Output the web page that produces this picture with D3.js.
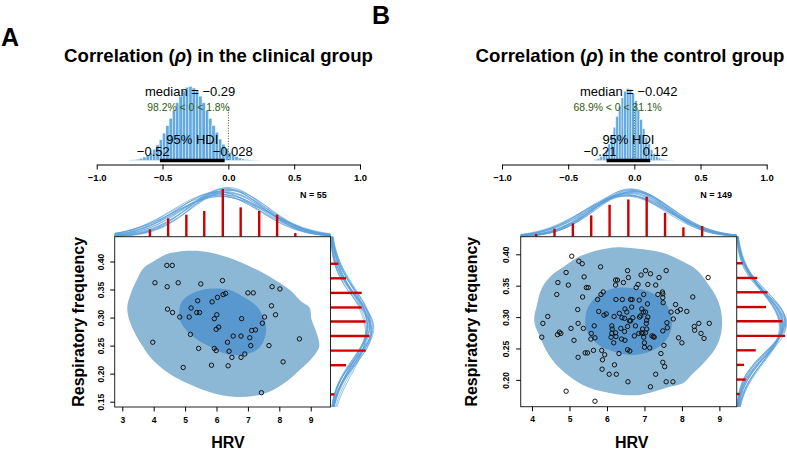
<!DOCTYPE html>
<html><head><meta charset="utf-8">
<script src="https://cdn.jsdelivr.net/npm/d3@7"></script>
<style>body{margin:0;background:#fff}svg{display:block}text{font-family:"Liberation Sans",Arial,Helvetica,sans-serif}</style>
</head><body><svg id="chart" width="787" height="450"></svg>
<script>
// ---------------- DATA ----------------
const panelLetters = ["A", "B"];
const groupNames = ["clinical", "control"];
const rhoTicks = [-1, -0.5, 0, 0.5, 1];
const xTicksClinical = [3, 4, 5, 6, 7, 8, 9];
const yTicksClinical = [0.15, 0.20, 0.25, 0.30, 0.35, 0.40];
const xTicksControl = [4, 5, 6, 7, 8, 9];
const yTicksControl = [0.20, 0.25, 0.30, 0.35, 0.40];
const sampleSizes = [55, 149];

// posterior of rho: summary values
const rhoMedian = [-0.29, -0.042];
const rhoHDI = [[-0.52, -0.028], [-0.21, 0.12]];
const rhoPctBelow = [98.2, 68.9];
const rhoPctAbove = [1.8, 31.1];

// posterior histogram (relative bar heights)
const clinicalRhoBinStart = -0.75, clinicalRhoBinWidth = 0.025;
const clinicalRhoHeights = [0.006,0.010,0.018,0.029,0.046,0.071,0.104,0.15,0.21,0.28,0.37,0.47,0.57,0.68,0.78,0.87,0.94,0.99,1.0,
  0.98,0.94,0.87,0.78,0.68,0.57,0.47,0.38,0.29,0.22,0.16,0.11,0.078,0.052,0.034,0.021,0.013,0.008,0.004,0.002,0.001];
const controlRhoBinStart = -0.30, controlRhoBinWidth = 0.02;
const controlRhoHeights = [0.016,0.030,0.055,0.093,0.15,0.23,0.34,0.46,0.61,0.75,0.87,0.96,1.0,0.99,0.93,0.83,0.71,0.57,0.44,0.32,
  0.23,0.15,0.095,0.057,0.033,0.018,0.009,0.005,0.002,0.001];

// scatter data
const clinicalHRV = [4.42,4.59,4.04,4.43,4.78,5.50,6.19,7.77,8.02,7.00,7.17,6.21,6.29,6.03,5.86,5.40,4.44,4.60,5.19,5.37,5.46,4.83,5.13,6.01,5.93,6.80,7.75,7.88,7.53,7.46,6.07,5.99,7.24,7.12,3.97,5.17,6.53,6.78,7.06,8.64,6.35,7.09,7.67,5.43,5.93,5.99,6.40,6.90,6.49,6.78,4.94,5.84,6.37,8.12,7.43];
const clinicalRF = [0.393,0.393,0.362,0.355,0.362,0.360,0.366,0.355,0.351,0.344,0.344,0.341,0.343,0.336,0.328,0.330,0.315,0.309,0.317,0.309,0.309,0.301,0.301,0.305,0.298,0.298,0.321,0.305,0.301,0.290,0.283,0.279,0.278,0.277,0.256,0.270,0.267,0.267,0.264,0.262,0.256,0.250,0.250,0.245,0.245,0.241,0.240,0.235,0.229,0.229,0.211,0.215,0.214,0.221,0.166];
const controlHRV = [5.06,5.25,5.34,5.83,
  6.55,7.03,7.58,4.91,6.91,7.16,5.39,6.57,7.39,8.70,
  6.23,6.28,4.69,6.44,4.97,6.83,7.09,7.30,6.23,
  5.45,5.50,6.78,5.90,7.48,7.49,4.66,5.84,6.98,7.36,
  5.35,8.29,5.75,6.24,6.41,6.63,6.67,6.86,7.49,
  7.50,7.08,7.83,6.66,7.96,5.22,6.48,6.93,5.78,
  5.92,5.98,6.33,6.53,6.97,7.03,7.71,7.88,8.13,4.42,6.19,6.40,6.47,6.69,6.87,6.90,7.09,7.77,
  6.60,6.63,7.06,7.60,4.29,5.23,7.05,8.45,8.73,5.66,6.13,6.55,6.76,8.33,7.61,5.04,5.37,6.37,6.14,6.95,7.06,
  7.49,8.34,4.73,4.68,4.77,5.58,6.13,6.23,6.47,6.85,6.92,6.96,7.03,8.51,4.26,6.11,6.24,6.73,6.98,7.20,7.24,7.26,7.91,8.59,5.68,
  5.57,5.12,6.39,6.48,6.18,7.00,8.00,
  7.52,5.64,7.00,7.14,5.86,6.55,6.61,5.42,5.48,6.32,7.44,5.94,
  5.23,5.88,7.49,6.20,7.54,5.87,
  6.06,6.25,7.30,6.56,7.58,7.76,7.16,4.91,5.68];
const controlRF = [0.397,0.389,0.385,0.380,
  0.374,0.374,0.374,0.371,0.367,0.369,0.364,0.363,0.363,0.363,
  0.359,0.359,0.355,0.355,0.351,0.352,0.352,0.351,0.351,
  0.347,0.347,0.347,0.340,0.340,0.337,0.336,0.336,0.336,0.336,
  0.332,0.332,0.328,0.328,0.328,0.328,0.328,0.327,0.331,
  0.323,0.321,0.320,0.316,0.312,0.312,0.313,0.313,0.309,
  0.303,0.305,0.306,0.308,0.308,0.308,0.308,0.309,0.309,0.301,0.301,0.299,0.298,0.299,0.300,0.302,0.300,0.297,
  0.294,0.294,0.295,0.291,0.290,0.290,0.290,0.290,0.290,0.286,0.286,0.285,0.286,0.285,0.283,0.282,0.282,0.282,0.281,0.281,0.281,
  0.278,0.279,0.276,0.272,0.274,0.274,0.274,0.275,0.277,0.274,0.275,0.274,0.275,0.274,0.268,0.268,0.269,0.270,0.268,0.270,0.269,0.268,0.267,0.266,0.267,
  0.265,0.263,0.265,0.263,0.259,0.259,0.259,
  0.255,0.247,0.252,0.251,0.247,0.248,0.246,0.243,0.243,0.242,0.242,0.240,
  0.236,0.232,0.228,0.224,0.221,0.217,
  0.209,0.209,0.209,0.197,0.197,0.197,0.189,0.182,0.166];

// HDI contour outlines (data units)
const clinicalOuterHRV = [3.16,3.27,3.46,3.67,3.99,4.41,5.16,5.79,6.43,7.07,7.70,8.34,8.71,8.96,9.03,9.19,9.27,9.03,8.66,8.23,7.70,7.17,6.54,5.90,5.31,4.73,4.25,3.88,3.62,3.35,3.19];
const clinicalOuterRF = [0.320,0.343,0.367,0.388,0.400,0.413,0.419,0.416,0.406,0.391,0.373,0.349,0.328,0.318,0.296,0.272,0.248,0.227,0.207,0.186,0.168,0.160,0.159,0.165,0.177,0.192,0.210,0.230,0.251,0.278,0.302];
const clinicalInnerHRV = [4.81,4.89,5.16,5.58,6.01,6.43,6.85,7.28,7.51,7.58,7.49,7.28,6.96,6.54,6.11,5.69,5.26,4.94,4.82];
const clinicalInnerRF = [0.311,0.328,0.341,0.350,0.352,0.349,0.337,0.320,0.299,0.278,0.257,0.242,0.235,0.233,0.239,0.251,0.266,0.284,0.299];
const controlOuterHRV = [4.06,4.13,4.26,4.48,4.84,5.19,5.55,6.08,6.44,6.97,7.51,8.04,8.40,8.66,8.89,9.04,9.07,9.00,8.84,8.57,8.26,8.04,7.68,7.24,6.88,6.44,5.91,5.46,5.06,4.75,4.48,4.30,4.17,4.08];
const controlOuterRF = [0.300,0.319,0.346,0.364,0.380,0.394,0.403,0.410,0.411,0.408,0.402,0.388,0.375,0.356,0.335,0.311,0.285,0.264,0.245,0.226,0.208,0.195,0.189,0.181,0.176,0.176,0.181,0.189,0.203,0.218,0.237,0.256,0.274,0.287];
const controlInnerHRV = [5.42,5.48,5.68,5.99,6.35,6.71,7.06,7.37,7.60,7.71,7.73,7.64,7.46,7.15,6.79,6.44,6.08,5.77,5.55,5.44];
const controlInnerRF = [0.295,0.314,0.330,0.342,0.347,0.346,0.342,0.333,0.319,0.303,0.285,0.269,0.256,0.245,0.240,0.241,0.247,0.256,0.269,0.282];

// marginal histograms (bin centres and counts)
const clinicalHrvBins = [3.88,4.46,5.04,5.61,6.20,6.77,7.36,7.93,8.51];
const clinicalHrvCounts = [2,5,6,7,13,8,7,6,1];
const clinicalRfBins = [0.163,0.189,0.215,0.241,0.267,0.293,0.318,0.344,0.370,0.396];
const clinicalRfCounts = [1,0,4,9,10,9,8,8,4,2];
const controlHrvBins = [4.11,4.60,5.09,5.58,6.07,6.57,7.06,7.55,8.04,8.54];
const controlHrvCounts = [2,6,10,16,24,28,30,18,7,8];
const controlRfBins = [0.1775,0.2005,0.2239,0.2471,0.270,0.2933,0.316,0.3395,0.3623,0.3857];
const controlRfCounts = [2,6,5,13,33,31,20,21,14,4];

// posterior predictive marginal curves (centre, spread, peak in count units)
const clinicalHrvCurveMu = [6.05,6.20,6.28,6.12,6.35,6.42,6.00,6.22,6.38,5.95,6.45,6.15,6.30,6.08,6.25,6.18,6.33];
const clinicalHrvCurveSd = [1.28,1.40,1.18,1.48,1.32,1.22,1.44,1.30,1.15,1.38,1.25,1.52,1.20,1.35,1.33,1.42,1.26];
const clinicalHrvCurvePeak = [12.3,11.5,13.2,11.0,12.0,12.9,11.3,12.4,13.4,11.8,12.6,10.9,13.0,12.1,12.0,11.4,12.7];
const clinicalRfCurveMu = [0.281,0.274,0.288,0.284,0.271,0.291,0.279,0.283,0.276,0.289,0.273,0.286,0.281,0.292,0.278,0.285,0.280];
const clinicalRfCurveSd = [0.062,0.057,0.068,0.055,0.071,0.060,0.065,0.056,0.069,0.061,0.058,0.066,0.054,0.064,0.060,0.067,0.059];
const clinicalRfCurvePeak = [10.0,10.6,9.3,10.9,9.0,10.2,9.6,10.7,9.2,10.1,10.4,9.5,11.1,9.8,10.3,9.4,10.5];
const controlHrvCurveMu = [6.60,6.52,6.68,6.56,6.74,6.48,6.63,6.70,6.55,6.65,6.45,6.67,6.61,6.58,6.64,6.50,6.72];
const controlHrvCurveSd = [1.05,1.13,0.98,1.09,1.02,1.16,0.95,1.07,1.11,1.00,1.08,1.03,1.14,0.99,1.05,1.12,1.01];
const controlHrvCurvePeak = [33,31.5,35.5,32.5,34,30.5,36,33.5,31,34.8,32,34,30.8,35.2,33,31.2,34.5];
const controlRfCurveMu = [0.288,0.284,0.292,0.287,0.282,0.294,0.289,0.285,0.291,0.283,0.293,0.288,0.286,0.290,0.285,0.287,0.291];
const controlRfCurveSd = [0.050,0.054,0.046,0.051,0.056,0.048,0.050,0.057,0.045,0.053,0.049,0.052,0.047,0.050,0.055,0.052,0.048];
const controlRfCurvePeak = [31.5,30,33.5,31,29.5,32.8,31.8,29,34,30.6,33,31.2,33.4,31.6,29.8,30.8,32.6];

const xLabel = "HRV";
const yLabel = "Respiratory frequency";

// ---------------- LAYOUT ----------------
const C = {
  hist: "#64aae1", hdi: "#000", green: "#2d5a12", outer: "#8db8d5", inner: "#5898cf",
  curve: "#5a9fd8", red: "#cc0000", frame: "#222"
};
const layout = [
  {letterX: 1, letterY: 46, titleX: 218.5, titleY: 62,
   post: {x0: 96.7, x1: 360, base: 160.5, axisY: 164.5, hmax: 74},
   box: {x0: 114.7, x1: 330.5, y0: 236.7, y1: 407}, xlim: [2.758, 9.63], ylim: [0.1405, 0.4442],
   yTickOff: 14, yTitleX: 83.5, xTitleX: 228, nX: 326.7, hrvPx: 3.67, rfPx: 3.9},
  {letterX: 372, letterY: 24, titleX: 630, titleY: 62,
   post: {x0: 502, x1: 766.7, base: 160.5, axisY: 164.5, hmax: 72},
   box: {x0: 520.7, x1: 736.7, y0: 236.7, y1: 406.7}, xlim: [3.698, 9.462], ylim: [0.1573, 0.428],
   yTickOff: 15.2, yTitleX: 476.5, xTitleX: 631.7, nX: 732, hrvPx: 1.33, rfPx: 1.47}
];

const groups = [
  {hx: clinicalHRV, ry: clinicalRF, binStart: clinicalRhoBinStart, binW: clinicalRhoBinWidth, heights: clinicalRhoHeights,
   outer: [clinicalOuterHRV, clinicalOuterRF], inner: [clinicalInnerHRV, clinicalInnerRF],
   hb: clinicalHrvBins, hc: clinicalHrvCounts, rb: clinicalRfBins, rc: clinicalRfCounts,
   hcm: clinicalHrvCurveMu, hcs: clinicalHrvCurveSd, hcp: clinicalHrvCurvePeak,
   rcm: clinicalRfCurveMu, rcs: clinicalRfCurveSd, rcp: clinicalRfCurvePeak,
   xt: xTicksClinical, yt: yTicksClinical},
  {hx: controlHRV, ry: controlRF, binStart: controlRhoBinStart, binW: controlRhoBinWidth, heights: controlRhoHeights,
   outer: [controlOuterHRV, controlOuterRF], inner: [controlInnerHRV, controlInnerRF],
   hb: controlHrvBins, hc: controlHrvCounts, rb: controlRfBins, rc: controlRfCounts,
   hcm: controlHrvCurveMu, hcs: controlHrvCurveSd, hcp: controlHrvCurvePeak,
   rcm: controlRfCurveMu, rcs: controlRfCurveSd, rcp: controlRfCurvePeak,
   xt: xTicksControl, yt: yTicksControl}
];

const svg = d3.select("#chart");
const minus = s => String(s).replace(/-/g, "\u2212");
const sig2 = d3.format(".2g");

groups.forEach((g, i) => {
  const L = layout[i];
  const P = L.post;
  const root = svg.append("g");

  // panel letter & title
  root.append("text").attr("x", L.letterX).attr("y", L.letterY)
    .attr("font-size", 25).attr("font-weight", "bold").text(panelLetters[i]);
  const t = root.append("text").attr("x", L.titleX).attr("y", L.titleY).attr("text-anchor", "middle")
    .attr("font-size", 18.6).attr("font-weight", "bold");
  t.append("tspan").text("Correlation (");
  t.append("tspan").attr("font-style", "italic").text("\u03c1");
  t.append("tspan").text(") in the " + groupNames[i] + " group");

  // ---------- posterior histogram ----------
  const rx = d3.scaleLinear().domain([-1, 1]).range([P.x0, P.x1]);
  const hy = d3.scaleLinear().domain([0, 1]).range([P.base, P.base - P.hmax]);
  root.append("g").selectAll("rect").data(g.heights).join("rect")
    .attr("x", (d, k) => rx(g.binStart + k * g.binW))
    .attr("width", (d, k) => rx(g.binStart + (k + 1) * g.binW) - rx(g.binStart + k * g.binW))
    .attr("y", d => hy(d)).attr("height", d => P.base - hy(d))
    .attr("fill", C.hist).attr("stroke", "#e8f4fc").attr("stroke-width", 0.5);

  // comparison value line
  root.append("line").attr("x1", rx(0)).attr("x2", rx(0)).attr("y1", 107).attr("y2", P.base)
    .attr("stroke", C.green).attr("stroke-width", 1).attr("stroke-dasharray", "1,1.6");

  // HDI bar
  root.append("line").attr("x1", rx(rhoHDI[i][0])).attr("x2", rx(rhoHDI[i][1]))
    .attr("y1", P.base).attr("y2", P.base).attr("stroke", C.hdi).attr("stroke-width", 3.6);

  // axis
  const ax = d3.axisBottom(rx).tickValues(rhoTicks).tickSizeInner(5).tickSizeOuter(0).tickPadding(4.3)
    .tickFormat(v => minus(d3.format(".1f")(v)));
  const axg = root.append("g").attr("transform", `translate(0,${P.axisY})`).call(ax);
  axg.selectAll("text").attr("font-size", 9.5).attr("font-weight", "bold")
    .attr("font-family", '"Liberation Sans",Arial,sans-serif').attr("fill", "#000");
  axg.selectAll("line,path").attr("stroke", "#000");

  // texts
  root.append("text").attr("x", rx(rhoMedian[i])).attr("y", 96).attr("text-anchor", "middle")
    .attr("font-size", 13).text("median = " + minus(sig2(rhoMedian[i])));
  const cv = root.append("text").attr("y", 110.5).attr("font-size", 10.4).attr("fill", C.green)
    .text(rhoPctBelow[i].toFixed(1) + "% < 0 < " + rhoPctAbove[i].toFixed(1) + "%");
  const cvw = cv.node().getComputedTextLength();
  cv.attr("x", rx(0) - cvw * rhoPctBelow[i] / 100);
  root.append("text").attr("x", rx(d3.mean(rhoHDI[i]))).attr("y", 144).attr("text-anchor", "middle")
    .attr("font-size", 13).text("95% HDI");
  [0, 1].forEach(k => {
    const tt = root.append("text").attr("y", 156).attr("font-size", 13).text(minus(sig2(rhoHDI[i][k])));
    const w = tt.node().getComputedTextLength();
    tt.attr("x", rx(rhoHDI[i][k]) - w * (k === 0 ? 0.7 : 0.3));
  });

  // ---------- scatter ----------
  const B = L.box;
  const xs = d3.scaleLinear().domain(L.xlim).range([B.x0, B.x1]);
  const ys = d3.scaleLinear().domain(L.ylim).range([B.y1, B.y0]);
  const area = d3.line().x(d => xs(d[0])).y(d => ys(d[1])).curve(d3.curveCatmullRomClosed.alpha(0.5));
  const outerPts = g.outer[0].map((v, k) => [v, g.outer[1][k]]);
  const innerPts = g.inner[0].map((v, k) => [v, g.inner[1][k]]);
  root.append("path").attr("d", area(outerPts)).attr("fill", C.outer);
  root.append("path").attr("d", area(innerPts)).attr("fill", C.inner);

  root.append("g").selectAll("circle").data(g.hx).join("circle")
    .attr("cx", d => xs(d)).attr("cy", (d, k) => ys(g.ry[k])).attr("r", 2.2)
    .attr("fill", "none").attr("stroke", "#111").attr("stroke-width", 1);

  // marginal curves
  const xGrid = d3.range(L.xlim[0], L.xlim[1] + 1e-9, (L.xlim[1] - L.xlim[0]) / 200);
  const yGrid = d3.range(L.ylim[0], L.ylim[1] + 1e-9, (L.ylim[1] - L.ylim[0]) / 200);
  const cg = root.append("g").attr("fill", "none").attr("stroke", C.curve).attr("stroke-width", 0.8).attr("stroke-opacity", 0.85);
  g.hcm.forEach((mu, k) => {
    const ln = d3.line().x(v => xs(v)).y(v => B.y0 - L.hrvPx * g.hcp[k] * Math.exp(-0.5 * ((v - mu) / g.hcs[k]) ** 2));
    cg.append("path").attr("d", ln(xGrid));
  });
  g.rcm.forEach((mu, k) => {
    const ln = d3.line().y(v => ys(v)).x(v => B.x1 + L.rfPx * g.rcp[k] * Math.exp(-0.5 * ((v - mu) / g.rcs[k]) ** 2));
    cg.append("path").attr("d", ln(yGrid));
  });

  // marginal red histograms
  root.append("g").selectAll("line").data(g.hb).join("line")
    .attr("x1", d => xs(d)).attr("x2", d => xs(d)).attr("y1", B.y0)
    .attr("y2", (d, k) => B.y0 - g.hc[k] * L.hrvPx)
    .attr("stroke", C.red).attr("stroke-width", 2.4);
  root.append("g").selectAll("line").data(g.rb).join("line")
    .attr("y1", d => ys(d)).attr("y2", d => ys(d)).attr("x1", B.x1)
    .attr("x2", (d, k) => B.x1 + g.rc[k] * L.rfPx)
    .attr("stroke", C.red).attr("stroke-width", 2.4);

  // frame
  root.append("rect").attr("x", B.x0).attr("y", B.y0).attr("width", B.x1 - B.x0).attr("height", B.y1 - B.y0)
    .attr("fill", "none").attr("stroke", C.frame).attr("stroke-width", 1);

  // axes
  const xa = d3.axisBottom(xs).tickValues(g.xt).tickSizeInner(4.5).tickSizeOuter(0).tickPadding(5).tickFormat(d3.format("d"));
  const xag = root.append("g").attr("transform", `translate(0,${B.y1})`).call(xa);
  xag.select(".domain").remove();
  xag.selectAll("text").attr("font-size", 8.5).attr("font-weight", "bold").attr("font-family", '"Liberation Sans",Arial,sans-serif').attr("fill", "#000");
  xag.selectAll("line").attr("stroke", "#000");
  const ya = d3.axisLeft(ys).tickValues(g.yt).tickSizeInner(4.5).tickSizeOuter(0).tickFormat(d3.format(".2f"));
  const yag = root.append("g").attr("transform", `translate(${B.x0},0)`).call(ya);
  yag.select(".domain").remove();
  yag.selectAll("line").attr("stroke", "#000");
  yag.selectAll("text").attr("font-size", 8.5).attr("font-weight", "bold").attr("font-family", '"Liberation Sans",Arial,sans-serif').attr("fill", "#000")
    .attr("transform", "rotate(-90)").attr("x", 0).attr("y", -(L.yTickOff - 3.0)).attr("dy", 0).attr("text-anchor", "middle");

  // axis titles
  root.append("text").attr("x", L.xTitleX).attr("y", 448).attr("text-anchor", "middle")
    .attr("font-size", 16).attr("font-weight", "bold").text(xLabel);
  root.append("text").attr("transform", `translate(${L.yTitleX},${(B.y0 + B.y1) / 2}) rotate(-90)`)
    .attr("text-anchor", "middle").attr("font-size", 16).attr("font-weight", "bold").text(yLabel);

  // N label
  root.append("text").attr("x", L.nX).attr("y", 198.3).attr("text-anchor", "end")
    .attr("font-size", 9).attr("font-weight", "bold").text("N = " + sampleSizes[i]);
});
</script></body></html>
